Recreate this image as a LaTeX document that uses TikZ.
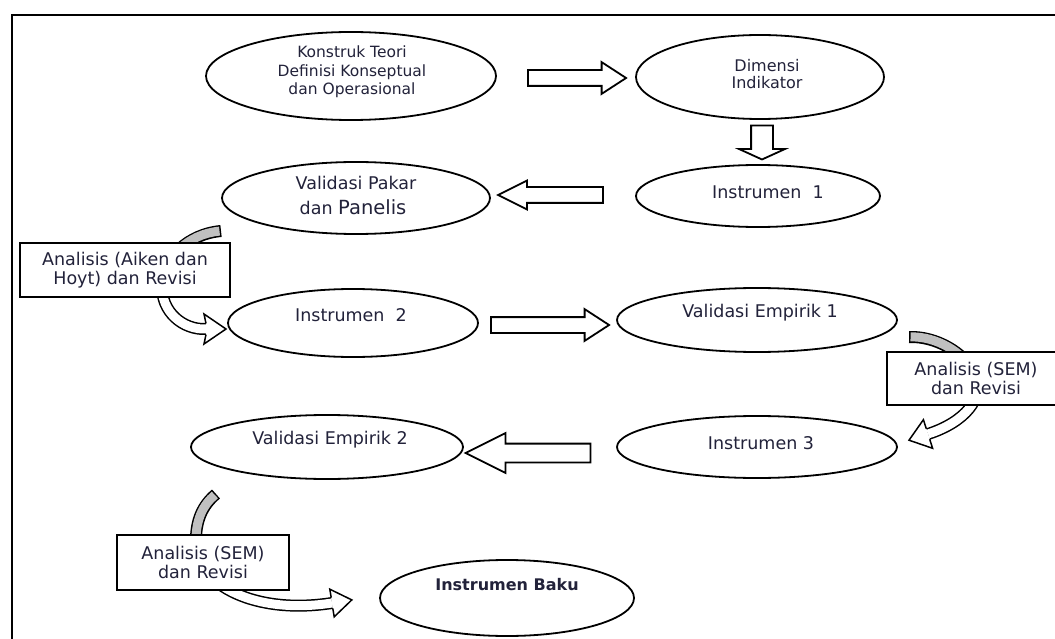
\documentclass[tikz,border=0pt]{standalone}
\usepackage{fontspec}
\setmainfont{DejaVu Sans}
\usetikzlibrary{shapes.geometric,shapes.arrows}
\definecolor{txt}{HTML}{22223A}
\definecolor{bandgrey}{HTML}{C0C0C0}
\begin{document}
\begin{tikzpicture}[x=1pt,y=-1pt,
  ell/.style={draw, line width=1.8pt, ellipse, inner sep=0pt},
  lbl/.style={inner sep=0pt, align=center, text=txt},
  box/.style={draw, line width=2.4pt, fill=white, inner sep=0pt, align=center, text=txt},
  barrow/.style={draw, line width=1.8pt, fill=white, single arrow, inner xsep=0pt},
  bandout/.style={line width=12pt, draw=black, line cap=butt},
  bandin/.style={line width=9pt, line cap=butt},
  headline/.style={line width=1.5pt, line join=miter}
]
\useasboundingbox (0,0) rectangle (1055,639);
\clip (0,0) rectangle (1055,639);
\fill[white] (0,0) rectangle (1055,639);
% frame
\draw[line width=2pt] (12,639) -- (12,15) -- (1055,15);

% ellipses
\node[ell, minimum width=290pt, minimum height=88pt] (konstruk) at (351,76) {};
\node[ell, minimum width=248pt, minimum height=84pt] (dimensi) at (760,77) {};
\node[ell, minimum width=244pt, minimum height=62pt] (ins1) at (758,196) {};
\node[ell, minimum width=268pt, minimum height=72pt] (pakar) at (356,198) {};
\node[ell, minimum width=250pt, minimum height=68pt] (ins2) at (353,323) {};
\node[ell, minimum width=280pt, minimum height=64pt] (ve1) at (757,320) {};
\node[ell, minimum width=280pt, minimum height=62pt] (ins3) at (757,447) {};
\node[ell, minimum width=272pt, minimum height=64pt] (ve2) at (327,447) {};
\node[ell, minimum width=254pt, minimum height=76pt] (baku) at (507,598) {};

% texts
\node[lbl, font=\fontsize{15.5}{18.5}\selectfont] (tkonstruk) at (352,72) {Konstruk Teori\\Definisi Konseptual\\dan Operasional};
\node[lbl, font=\fontsize{16}{17}\selectfont] (tdimensi) at (767,74.5) {Dimensi\\Indikator};
\node[lbl, font=\fontsize{17.5}{20}\selectfont] (tins1) at (768,192) {Instrumen~~1};
\node[lbl, font=\fontsize{17.5}{20}\selectfont] (tpakar) at (356,183) {Validasi Pakar};
\node[lbl, font=\fontsize{17.5}{20}\selectfont] (tpanelis) at (353,207) {dan {\fontsize{19.5}{20}\selectfont Panelis}};
\node[lbl, font=\fontsize{17.5}{20}\selectfont] (tins2) at (351,315) {Instrumen~~2};
\node[lbl, font=\fontsize{17.5}{20}\selectfont] (tve1) at (760,313) {Validasi Empirik 1};
\node[lbl, font=\fontsize{17.5}{20}\selectfont] (tins3) at (761,443) {Instrumen 3};
\node[lbl, font=\fontsize{17.5}{20}\selectfont] (tve2) at (330,440) {Validasi Empirik 2};
\node[lbl, font=\bfseries\fontsize{16}{20}\selectfont] (tbaku) at (507,585) {Instrumen Baku};

% straight block arrows
\node[barrow, minimum height=98pt, inner ysep=7pt, single arrow head extend=8pt, single arrow tip angle=66] (a1) at (571,78) {};
\node[barrow, rotate=-90, minimum height=34pt, inner ysep=10pt, single arrow head extend=12pt, single arrow tip angle=131] (a2) at (762,140) {};
\node[barrow, rotate=180, minimum height=105pt, inner ysep=7pt, single arrow head extend=6.5pt, single arrow tip angle=53] (a3) at (558.5,195) {};
\node[barrow, minimum height=118pt, inner ysep=7pt, single arrow head extend=8pt, single arrow tip angle=66] (a4) at (544,325) {};
\node[barrow, rotate=180, minimum height=125pt, inner ysep=8.5pt, single arrow head extend=10.5pt, single arrow tip angle=53] (a5) at (537.5,453) {};

% curved arrow: Validasi Pakar -> Instrumen 2
\coordinate (c1s) at (221,231);
\coordinate (c1m) at (162,285);
\coordinate (c1e) at (206,329);
\draw[bandout] (c1s) .. controls (188,234) and (163,258) .. (c1m);
\draw[bandout] (c1m) .. controls (161,312) and (183,330) .. (c1e);
\draw[bandin, draw=bandgrey, shorten <=1.5pt] (c1s) .. controls (188,234) and (163,258) .. (c1m);
\draw[bandin, draw=white] (c1m) .. controls (161,312) and (183,330) .. (c1e);
\fill[white] (206,323.5) -- (204,314) -- (226,329) -- (204,344) -- (206,334.5) -- cycle;
\draw[headline] (206,323.5) -- (204,314) -- (226,329) -- (204,344) -- (206,334.5);

% curved arrow: Validasi Empirik 1 -> Instrumen 3
\coordinate (c2s) at (909,337);
\coordinate (c2m) at (975,375);
\coordinate (c2e) at (928,434);
\draw[bandout] (c2s) .. controls (935,336) and (965,352) .. (c2m);
\draw[bandout] (c2m) .. controls (985,398) and (965,422) .. (c2e);
\draw[bandin, draw=bandgrey, shorten <=1.5pt] (c2s) .. controls (935,336) and (965,352) .. (c2m);
\draw[bandin, draw=white] (c2m) .. controls (985,398) and (965,422) .. (c2e);
\fill[white] (929.7,439.2) -- (932.6,448.3) -- (909,440.2) -- (923.4,419.7) -- (926.3,428.8) -- cycle;
\draw[headline] (929.7,439.2) -- (932.6,448.3) -- (909,440.2) -- (923.4,419.7) -- (926.3,428.8);

% curved arrow: Validasi Empirik 2 -> Instrumen Baku
\coordinate (c3s) at (216,494);
\coordinate (c3m) at (196,545);
\coordinate (c3e) at (332,603);
\draw[bandout] (c3s) .. controls (203,505) and (195,520) .. (c3m);
\draw[bandout] (c3m) .. controls (198,585) and (255,615) .. (c3e);
\draw[bandin, draw=bandgrey, shorten <=1.5pt] (c3s) .. controls (203,505) and (195,520) .. (c3m);
\draw[bandin, draw=white] (c3m) .. controls (198,585) and (255,615) .. (c3e);
\fill[white] (332.8,608.4) -- (334.2,616.8) -- (351.8,599.9) -- (329.8,589.2) -- (331.2,597.6) -- cycle;
\draw[headline] (332.8,608.4) -- (334.2,616.8) -- (351.8,599.9) -- (329.8,589.2) -- (331.2,597.6);

% boxes
\node[box, minimum width=210pt, minimum height=54pt, font=\fontsize{17.5}{19}\selectfont] (aiken) at (125,270) {Analisis (Aiken dan\\Hoyt) dan Revisi};
\node[box, minimum width=178pt, minimum height=53pt, font=\fontsize{17.5}{19}\selectfont] (sem1) at (976,378.5) {Analisis (SEM)\\dan Revisi};
\node[box, minimum width=172pt, minimum height=55pt, font=\fontsize{17.5}{19}\selectfont] (sem2) at (203,562.5) {Analisis (SEM)\\dan Revisi};
\end{tikzpicture}
\end{document}
